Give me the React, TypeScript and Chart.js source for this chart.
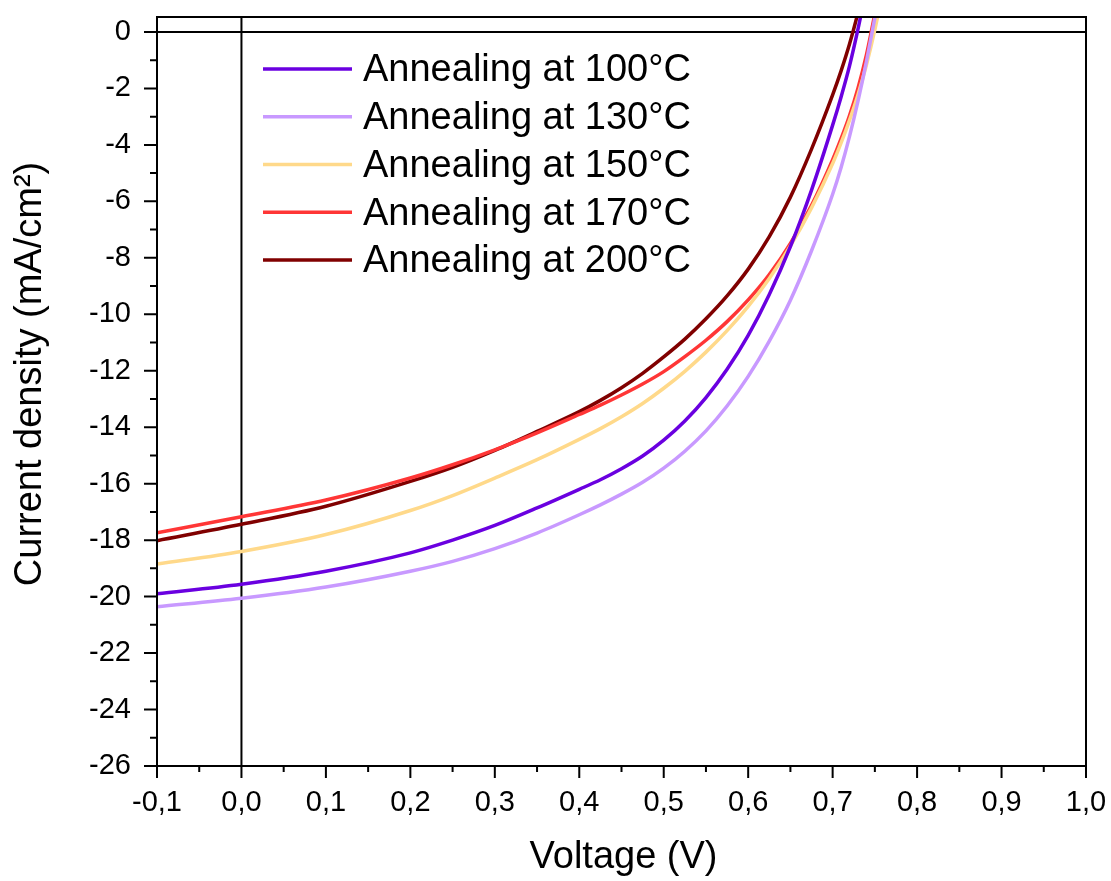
import React, { useEffect, useRef } from 'react';
import { Chart, registerables } from 'chart.js';

Chart.register(...registerables);

// Voltage sample points (V)
const VOLTAGE = [-0.1, 0, 0.1, 0.2, 0.25, 0.3, 0.35, 0.4, 0.425, 0.45, 0.475, 0.5, 0.525, 0.55, 0.575, 0.6, 0.625, 0.65, 0.675, 0.7, 0.71, 0.72, 0.73, 0.74, 0.75, 0.76];

// Current density (mA/cm²) per annealing temperature
const J_100 = [-19.9, -19.56, -19.1, -18.45, -18.0, -17.48, -16.86, -16.2, -15.86, -15.47, -15.02, -14.46, -13.78, -12.95, -11.95, -10.75, -9.3, -7.6, -5.6, -3.3, -2.3, -1.2, 0.1, 1.55, null, null];
const J_130 = [-20.36, -20.06, -19.66, -19.1, -18.75, -18.3, -17.75, -17.1, -16.75, -16.37, -15.95, -15.45, -14.85, -14.13, -13.25, -12.2, -10.95, -9.5, -7.75, -5.75, -4.8, -3.7, -2.45, -1.05, 0.5, 2.15];
const J_150 = [-18.85, -18.4, -17.8, -16.95, -16.42, -15.8, -15.15, -14.43, -14.05, -13.63, -13.16, -12.62, -12.02, -11.34, -10.58, -9.72, -8.73, -7.58, -6.23, -4.66, -3.93, -3.12, -2.22, -1.17, 0.08, 1.53];
const J_170 = [-17.74, -17.17, -16.58, -15.8, -15.33, -14.8, -14.2, -13.55, -13.22, -12.86, -12.47, -12.03, -11.5, -10.92, -10.26, -9.49, -8.59, -7.49, -6.14, -4.52, -3.78, -2.96, -1.99, -0.81, 0.64, null];
const J_200 = [-18.02, -17.44, -16.8, -15.92, -15.42, -14.82, -14.15, -13.45, -13.05, -12.6, -12.09, -11.51, -10.88, -10.16, -9.35, -8.4, -7.25, -5.85, -4.15, -2.23, -1.38, -0.43, 0.68, 1.93, null, null];

const SERIES_LABELS = ['Annealing at 100°C', 'Annealing at 130°C', 'Annealing at 150°C', 'Annealing at 170°C', 'Annealing at 200°C'];
const SERIES_COLORS = ['#6a00e0', '#c899ff', '#ffd98a', '#ff3636', '#800000'];

// Axis ticks
const X_TICKS = [-0.1, 0, 0.1, 0.2, 0.3, 0.4, 0.5, 0.6, 0.7, 0.8, 0.9, 1.0];
const X_TICK_LABELS = ['-0,1', '0,0', '0,1', '0,2', '0,3', '0,4', '0,5', '0,6', '0,7', '0,8', '0,9', '1,0'];
const X_MINOR_TICKS = [-0.05, 0.05, 0.15, 0.25, 0.35, 0.45, 0.55, 0.65, 0.75, 0.85, 0.95];
const Y_TICKS = [-26, -24, -22, -20, -18, -16, -14, -12, -10, -8, -6, -4, -2, 0];
const Y_TICK_LABELS = ['-26', '-24', '-22', '-20', '-18', '-16', '-14', '-12', '-10', '-8', '-6', '-4', '-2', '0'];
const Y_MINOR_TICKS = [-25, -23, -21, -19, -17, -15, -13, -11, -9, -7, -5, -3, -1];

const X_MIN = -0.1;
const X_MAX = 1.0;
const Y_MIN = -26;
const Y_MAX = 0.53;

const X_TITLE = 'Voltage (V)';
const Y_TITLE = 'Current density (mA/cm²)';

const FONT = "'Liberation Sans', Arial, sans-serif";

const SERIES = [J_100, J_130, J_150, J_170, J_200];

const zeroPadding = (scale: any) => {
  scale.paddingLeft = 0;
  scale.paddingRight = 0;
  scale.paddingTop = 0;
  scale.paddingBottom = 0;
};

const decorPlugin = {
  id: 'decor',
  beforeDatasetsDraw(chart: any) {
    const { ctx, chartArea: a, scales } = chart;
    const x0 = scales.x.getPixelForValue(0);
    const y0 = scales.y.getPixelForValue(0);
    ctx.save();
    ctx.strokeStyle = '#000';
    ctx.lineWidth = 2;
    ctx.beginPath();
    ctx.moveTo(x0, a.top);
    ctx.lineTo(x0, a.bottom);
    ctx.moveTo(a.left, y0);
    ctx.lineTo(a.right, y0);
    ctx.stroke();
    ctx.restore();
  },
  afterDraw(chart: any) {
    const { ctx, chartArea: a, scales } = chart;
    const xs = scales.x;
    const ys = scales.y;
    ctx.save();
    ctx.strokeStyle = '#000';
    ctx.lineWidth = 2;
    ctx.strokeRect(a.left, a.top, a.right - a.left, a.bottom - a.top);

    ctx.beginPath();
    Y_TICKS.forEach((v) => {
      const p = ys.getPixelForValue(v);
      ctx.moveTo(a.left - 13, p);
      ctx.lineTo(a.left, p);
    });
    Y_MINOR_TICKS.forEach((v) => {
      const p = ys.getPixelForValue(v);
      ctx.moveTo(a.left - 7, p);
      ctx.lineTo(a.left, p);
    });
    X_TICKS.forEach((v) => {
      const p = xs.getPixelForValue(v);
      ctx.moveTo(p, a.bottom);
      ctx.lineTo(p, a.bottom + 12);
    });
    X_MINOR_TICKS.forEach((v) => {
      const p = xs.getPixelForValue(v);
      ctx.moveTo(p, a.bottom);
      ctx.lineTo(p, a.bottom + 6);
    });
    ctx.stroke();

    // Legend
    const lx0 = a.left + 106;
    const lx1 = a.left + 195;
    const ly0 = a.top + 52;
    const step = 47.75;
    ctx.font = `38px ${FONT}`;
    ctx.textBaseline = 'middle';
    ctx.textAlign = 'left';
    chart.data.datasets.forEach((ds: any, i: number) => {
      const yy = ly0 + i * step;
      ctx.strokeStyle = ds.borderColor;
      ctx.lineWidth = 3.5;
      ctx.beginPath();
      ctx.moveTo(lx0, yy);
      ctx.lineTo(lx1, yy);
      ctx.stroke();
      ctx.fillStyle = '#000';
      ctx.fillText(ds.label, lx1 + 11, yy + 2);
    });

    // Axis titles
    ctx.fillStyle = '#000';
    ctx.font = `38px ${FONT}`;
    ctx.textAlign = 'center';
    ctx.textBaseline = 'middle';
    ctx.fillText(X_TITLE, (a.left + a.right) / 2 + 2, 858);
    ctx.translate(31, 374);
    ctx.rotate(-Math.PI / 2);
    ctx.fillText(Y_TITLE, 0, 0);
    ctx.restore();
  },
};

export default function App() {
  const canvasRef = useRef<HTMLCanvasElement | null>(null);

  useEffect(() => {
    const canvas = canvasRef.current;
    if (!canvas) return;
    const chart = new Chart(canvas, {
      type: 'line',
      data: {
        datasets: SERIES.map((arr, i) => ({
          label: SERIES_LABELS[i],
          data: VOLTAGE.map((v, k) => ({ x: v, y: arr[k] })).filter((p) => p.y !== null),
          borderColor: SERIES_COLORS[i],
          backgroundColor: SERIES_COLORS[i],
          borderWidth: 3.5,
          pointRadius: 0,
          cubicInterpolationMode: 'monotone',
          fill: false,
        })),
      },
      options: {
        animation: false,
        responsive: true,
        maintainAspectRatio: false,
        layout: { padding: { top: 17, right: 25, left: 0, bottom: 0 } },
        plugins: {
          legend: { display: false },
          tooltip: { enabled: false },
        },
        scales: {
          x: {
            type: 'linear',
            min: X_MIN,
            max: X_MAX,
            afterBuildTicks: (scale: any) => {
              scale.ticks = X_TICKS.map((v) => ({ value: v }));
            },
            afterFit: (scale: any) => {
              scale.height = 115;
              zeroPadding(scale);
            },
            ticks: {
              autoSkip: false,
              maxRotation: 0,
              padding: 20,
              color: '#000',
              font: { family: FONT, size: 29 },
              callback: (_v: any, idx: number) => X_TICK_LABELS[idx],
            },
            grid: { display: true, drawOnChartArea: false, drawTicks: false },
            border: { display: false },
          },
          y: {
            type: 'linear',
            min: Y_MIN,
            max: Y_MAX,
            afterBuildTicks: (scale: any) => {
              scale.ticks = Y_TICKS.map((v) => ({ value: v }));
            },
            afterFit: (scale: any) => {
              scale.width = 157;
              zeroPadding(scale);
            },
            ticks: {
              autoSkip: false,
              padding: 26,
              color: '#000',
              font: { family: FONT, size: 29 },
              callback: (_v: any, idx: number) => Y_TICK_LABELS[idx],
            },
            grid: { display: true, drawOnChartArea: false, drawTicks: false },
            border: { display: false },
          },
        },
      },
      plugins: [decorPlugin],
    } as any);
    return () => chart.destroy();
  }, []);

  return (
    <div style={{ position: 'fixed', left: 0, top: 0, width: 1111, height: 881, background: '#fff' }}>
      <canvas ref={canvasRef} />
    </div>
  );
}
